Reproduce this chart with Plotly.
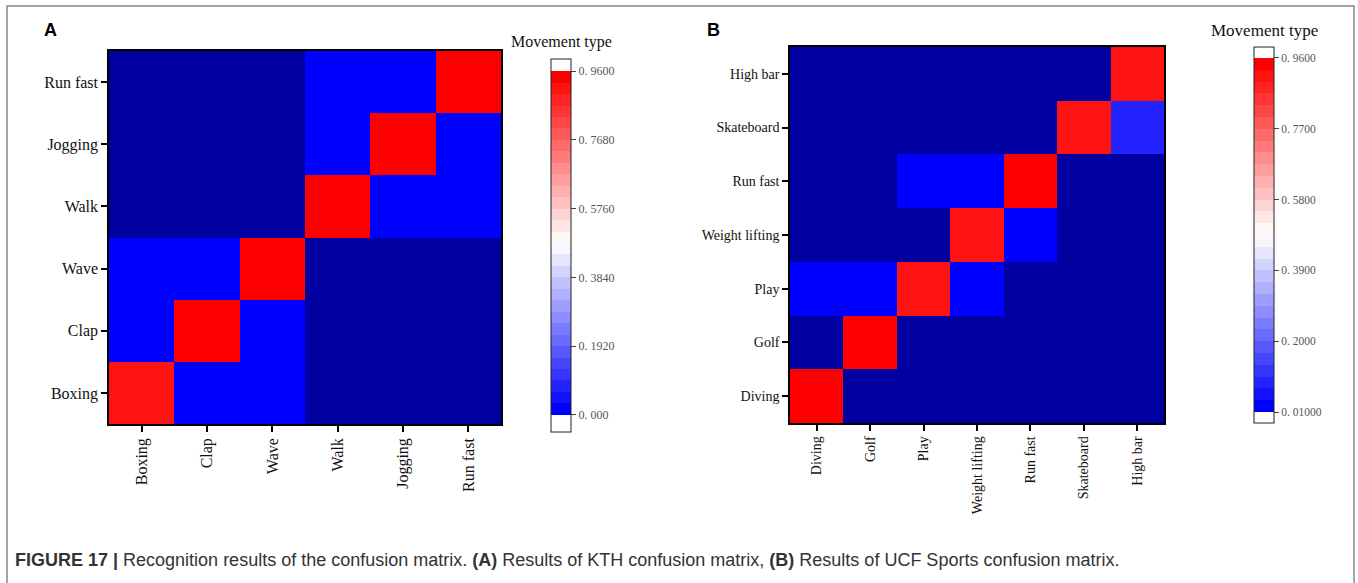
import plotly.graph_objects as go

W, H = 1358, 583

# ---------------- data ----------------
kth_labels = ["Boxing", "Clap", "Wave", "Walk", "Jogging", "Run fast"]
# rows bottom->top (Boxing .. Run fast), None = no confusion (dark background)
kth_values = [
    [0.91, 0.01, 0.01, None, None, None],   # Boxing
    [0.01, 0.95, 0.01, None, None, None],   # Clap
    [0.01, 0.01, 0.95, None, None, None],   # Wave
    [None, None, None, 0.95, 0.01, 0.01],   # Walk
    [None, None, None, 0.01, 0.95, 0.01],   # Jogging
    [None, None, None, 0.01, 0.01, 0.95],   # Run fast
]
kth_tickvals = [0.0, 0.192, 0.384, 0.576, 0.768, 0.96]
kth_ticktext = ["0. 000", "0. 1920", "0. 3840", "0. 5760", "0. 7680", "0. 9600"]

ucf_labels = ["Diving", "Golf", "Play", "Weight lifting", "Run fast", "Skateboard", "High bar"]
ucf_values = [
    [0.95, None, None, None, None, None, None],   # Diving
    [None, 0.95, None, None, None, None, None],   # Golf
    [0.02, 0.02, 0.91, 0.02, None, None, None],   # Play
    [None, None, None, 0.91, 0.02, None, None],   # Weight lifting
    [None, None, 0.02, 0.02, 0.95, None, None],   # Run fast
    [None, None, None, None, None, 0.91, 0.08],   # Skateboard
    [None, None, None, None, None, None, 0.91],   # High bar
]
ucf_tickvals = [0.01, 0.20, 0.39, 0.58, 0.77, 0.96]
ucf_ticktext = ["0. 01000", "0. 2000", "0. 3900", "0. 5800", "0. 7700", "0. 9600"]

caption = ("<b>FIGURE 17 |</b> Recognition results of the confusion matrix. "
           "<b>(A)</b> Results of KTH confusion matrix, "
           "<b>(B)</b> Results of UCF Sports confusion matrix.")

# ---------------- helpers ----------------
NBANDS = 30


def bwr(s):
    if s < 0.5:
        v = 2 * s
        return "rgb(%d,%d,%d)" % (round(255 * v), round(255 * v), 255)
    v = 2 * (1 - s)
    return "rgb(%d,%d,%d)" % (255, round(255 * v), round(255 * v))


def banded_scale(lo, hi, zmin, zmax):
    a = (lo - zmin) / (zmax - zmin)
    b = (hi - zmin) / (zmax - zmin)
    w = (b - a) / NBANDS
    cs = [[0.0, "white"], [a, "white"]]
    for i in range(NBANDS):
        c = bwr(i / (NBANDS - 1))
        cs.append([a + i * w, c])
        cs.append([a + (i + 1) * w if i < NBANDS - 1 else b, c])
    cs.append([b, "white"])
    cs.append([1.0, "white"])
    return cs


def px(x):
    return x / W


def py(y):
    return 1 - y / H


SERIF = "Liberation Serif"
SANS = "Liberation Sans"
NAVY = "#0000a0"

fig = go.Figure()

# KTH panel
zA0, zA1 = -0.048, 0.994
fig.add_trace(go.Heatmap(
    z=kth_values, x=kth_labels, y=kth_labels,
    zmin=zA0, zmax=zA1, colorscale=banded_scale(0.0, 0.96, zA0, zA1),
    xaxis="x", yaxis="y", hoverongaps=False,
    colorbar=dict(
        x=px(551), xanchor="left", xpad=0,
        y=py(59), yanchor="top", ypad=0,
        len=373, lenmode="pixels", thickness=20, thicknessmode="pixels",
        outlinewidth=1, outlinecolor="#222",
        ticks="outside", ticklen=5, tickcolor="#444",
        tickvals=kth_tickvals, ticktext=kth_ticktext,
        tickfont=dict(family=SERIF, size=12, color="#555"),
    ),
))

# UCF panel
zB0, zB1 = -0.0195, 0.9895
fig.add_trace(go.Heatmap(
    z=ucf_values, x=ucf_labels, y=ucf_labels,
    zmin=zB0, zmax=zB1, colorscale=banded_scale(0.01, 0.96, zB0, zB1),
    xaxis="x2", yaxis="y2", hoverongaps=False,
    colorbar=dict(
        x=px(1254), xanchor="left", xpad=0,
        y=py(47), yanchor="top", ypad=0,
        len=376, lenmode="pixels", thickness=20, thicknessmode="pixels",
        outlinewidth=1, outlinecolor="#222",
        ticks="outside", ticklen=5, tickcolor="#444",
        tickvals=ucf_tickvals, ticktext=ucf_ticktext,
        tickfont=dict(family=SERIF, size=11.5, color="#555"),
    ),
))

axis_common = dict(showline=True, mirror=True, linecolor="black", linewidth=1.5,
                   ticks="outside", ticklen=6, tickwidth=1.5, tickcolor="black",
                   showgrid=False, zeroline=False, type="category")

fig.update_layout(
    width=W, height=H,
    margin=dict(l=0, r=0, t=0, b=0),
    paper_bgcolor="white", plot_bgcolor=NAVY,
    showlegend=False,
    xaxis=dict(domain=[px(109), px(501)], anchor="y", tickangle=-90,
               tickfont=dict(family=SERIF, size=16, color="#111"), **axis_common),
    yaxis=dict(domain=[py(424), py(51)], anchor="x",
               tickfont=dict(family=SERIF, size=16, color="#111"), **axis_common),
    xaxis2=dict(domain=[px(790), px(1164)], anchor="y2", tickangle=-90,
                tickfont=dict(family=SERIF, size=14, color="#111"), **axis_common),
    yaxis2=dict(domain=[py(423), py(47)], anchor="x2",
                tickfont=dict(family=SERIF, size=14, color="#111"), **axis_common),
)

annotations = [
    dict(text="<b>A</b>", x=px(50), y=py(30), font=dict(family=SANS, size=18, color="black")),
    dict(text="<b>B</b>", x=px(713), y=py(30), font=dict(family=SANS, size=18, color="black")),
    dict(text="Movement type", x=px(561.5), y=py(42), font=dict(family=SERIF, size=16, color="#111")),
    dict(text="Movement type", x=px(1264), y=py(30), font=dict(family=SERIF, size=17, color="#111")),
]
for a in annotations:
    a.update(xref="paper", yref="paper", showarrow=False, xanchor="center", yanchor="middle")
annotations.append(dict(text=caption, x=px(13), y=py(560), xref="paper", yref="paper",
                        showarrow=False, xanchor="left", yanchor="middle",
                        font=dict(family=SANS, size=18, color="#333")))
fig.update_layout(annotations=annotations)

# outer figure frame
fig.add_shape(type="rect", xref="paper", yref="paper",
              x0=px(7), x1=px(1354), y0=-0.1, y1=py(6),
              line=dict(color="#888", width=1.5), fillcolor="rgba(0,0,0,0)", layer="below")

fig.write_html("out.html")
